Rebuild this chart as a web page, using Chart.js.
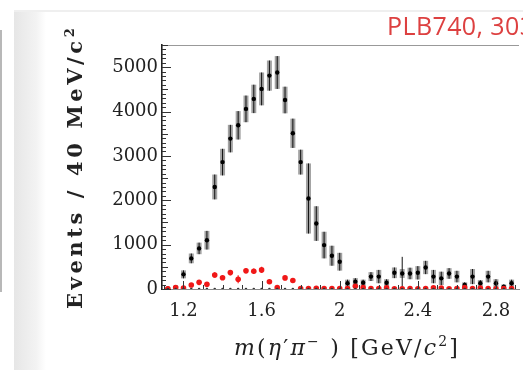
<!DOCTYPE html>
<html>
<head>
<meta charset="utf-8">
<script src="https://cdn.jsdelivr.net/npm/chart.js@4.4.1/dist/chart.umd.min.js"></script>
<style>
html,body{margin:0;padding:0;background:#fff;overflow:hidden}
#wrap{position:relative;width:523px;height:370px;overflow:hidden;filter:blur(0.7px)}
#strip{position:absolute;left:14px;top:10px;width:32px;height:360px;background:linear-gradient(to right,#e6e6e6,#f3f3f3 70%,#fff)}
#topline{position:absolute;left:14px;top:10px;width:509px;height:2px;background:#efefef}
#edge{position:absolute;left:0;top:30px;width:2px;height:262px;background:#b8b8b8}
#plb{position:absolute;left:387px;top:8px;font:500 25px 'Open Sans',sans-serif;letter-spacing:0.4px;color:#dd4040;white-space:nowrap}
#ytitle{position:absolute;left:-64px;top:155px;width:280px;height:28px;line-height:28px;text-align:center;
  transform:rotate(-90deg);font:bold 21px 'DejaVu Serif',serif;color:#222;letter-spacing:3.6px;white-space:nowrap}
#xtitle{position:absolute;left:187px;top:333px;width:320px;text-align:center;font:22px 'DejaVu Serif',serif;letter-spacing:2.2px;color:#222;white-space:nowrap}
#xtitle sup{font-size:14px;vertical-align:9px}
canvas{position:absolute;left:0;top:0}
</style>
</head>
<body>
<div id="wrap">
  <div id="strip"></div>
  <div id="topline"></div>
  <div id="edge"></div>
  <canvas id="massChart" width="523" height="370"></canvas>
  <div id="ytitle">Events / 40 MeV/c<sup style="font-size:13px">2</sup></div>
  <div id="xtitle"><i>m</i>(<i>η</i>′<i>π</i><sup>−</sup> ) [GeV/<i>c</i><sup>2</sup>]</div>
  <div id="plb">PLB740, 303</div>
</div>
<script>
// bin centres, 40 MeV wide
const massBins = [1.12,1.16,1.20,1.24,1.28,1.32,1.36,1.40,1.44,1.48,1.52,1.56,1.60,1.64,1.68,
  1.72,1.76,1.80,1.84,1.88,1.92,1.96,2.00,2.04,2.08,2.12,2.16,2.20,2.24,2.28,
  2.32,2.36,2.40,2.44,2.48,2.52,2.56,2.60,2.64,2.68,2.72,2.76,2.80,2.84,2.88];
// main spectrum (black)
const events = [15,40,330,690,915,1100,2300,2860,3390,3690,4060,4285,4510,4810,4880,
  4260,3510,2860,2040,1475,990,750,615,130,165,140,280,280,140,365,
  350,350,365,485,280,240,350,280,90,280,130,280,130,50,130];
const statErr = [20,30,90,110,130,210,280,300,310,320,300,320,370,340,370,
  300,330,280,790,390,300,225,200,80,80,70,100,150,80,120,
  375,130,150,150,150,150,120,130,60,170,70,130,90,50,80];
const sysErr = [20,30,90,110,130,210,280,300,310,320,300,320,370,340,370,
  300,330,280,790,390,300,225,200,80,80,70,100,150,80,120,
  100,130,150,150,150,150,120,130,60,170,70,130,90,50,80];
// red points
const redEvents = [5,35,20,90,150,105,315,255,370,220,410,400,430,165,30,
  250,190,10,10,15,10,10,10,10,60,35,10,10,25,5,
  5,10,5,10,25,20,5,10,30,10,20,10,5,10,10];
const redErr = [10,20,20,40,40,40,60,50,60,90,60,60,70,50,30,
  50,50,20,15,15,15,15,15,15,30,25,15,15,20,15,
  15,15,15,15,20,20,15,15,20,15,15,15,15,15,15];
// dark markers on the baseline
const baseEvents = [0,0,0,0,0,0,0,0,0,0,0,0,0,0,0,
  0,0,0,0,0,0,0,0,0,0,0,0,0,0,0,
  0,0,0,0,0,0,0,0,0,0,0,0,0,0,0];

const xTicks = [1.2,1.6,2.0,2.4,2.8];
const xTickLabels = ['1.2','1.6','2','2.4','2.8'];
const yTicks = [0,1000,2000,3000,4000,5000];
const yTickLabels = ['0','1000','2000','3000','4000','5000'];

const pts = (ys) => massBins.map((m,i)=>({x:m,y:ys[i]}));

// error bars, drawn under the markers
const errorBars = {
  id:'errorBars',
  beforeDatasetsDraw(chart){
    const {ctx, scales:{x,y}} = chart;
    ctx.save();
    ctx.beginPath();
    ctx.rect(chart.chartArea.left, chart.chartArea.top, chart.chartArea.width, chart.chartArea.height);
    ctx.clip();
    massBins.forEach((m,i)=>{
      const px = x.getPixelForValue(m);
      // systematic box
      const t = y.getPixelForValue(events[i]+sysErr[i]);
      const b = y.getPixelForValue(Math.max(0,events[i]-sysErr[i]));
      ctx.fillStyle='rgba(70,70,70,0.5)';
      ctx.fillRect(px-2.5, t, 5, b-t);
      // stat line
      ctx.strokeStyle='#111'; ctx.lineWidth=1;
      ctx.beginPath();
      ctx.moveTo(px, y.getPixelForValue(events[i]+statErr[i]));
      ctx.lineTo(px, y.getPixelForValue(Math.max(0,events[i]-statErr[i])));
      ctx.stroke();
      // red
      ctx.strokeStyle='#f22'; ctx.lineWidth=1.2;
      ctx.beginPath();
      ctx.moveTo(px, y.getPixelForValue(redEvents[i]+redErr[i]));
      ctx.lineTo(px, y.getPixelForValue(Math.max(0,redEvents[i]-redErr[i])));
      ctx.stroke();
    });
    ctx.restore();
  }
};

// frame line on top and inward tick marks
const frameTicks = {
  id:'frameTicks',
  afterDraw(chart){
    const {ctx, chartArea:a, scales:{x,y}} = chart;
    ctx.save();
    ctx.strokeStyle='#999'; ctx.lineWidth=1;
    ctx.beginPath(); ctx.moveTo(a.left, a.top+0.5); ctx.lineTo(a.right, a.top+0.5); ctx.stroke();
    ctx.strokeStyle='#333';
    ctx.beginPath();
    for (let v=0; v<=5500; v+=100){
      const py = Math.round(y.getPixelForValue(v))+0.5;
      const len = v%1000===0 ? 9 : (v%500===0 ? 6 : 4);
      ctx.moveTo(a.left, py); ctx.lineTo(a.left+len, py);
    }
    for (let i=11; i<=29; i++){
      const px = Math.round(x.getPixelForValue(i/10))+0.5;
      const len = i%4===0 ? 8 : 4;
      ctx.moveTo(px, a.bottom); ctx.lineTo(px, a.bottom-len);
    }
    ctx.stroke();
    ctx.restore();
  }
};

new Chart('massChart', {
  type:'scatter',
  data:{datasets:[
    {label:'base', data:pts(baseEvents), pointRadius:1.3, backgroundColor:'#333', borderWidth:0},
    {label:'red', data:pts(redEvents), pointRadius:2.8, backgroundColor:'#f01818', borderWidth:0},
    {label:'events', data:pts(events), pointRadius:2.2, backgroundColor:'#000', borderWidth:0}
  ]},
  options:{
    responsive:false, animation:false,
    layout:{padding:{top:45,left:0,right:0,bottom:0}},
    plugins:{legend:{display:false}, tooltip:{enabled:false}},
    scales:{
      x:{type:'linear', min:1.09, max:2.918,
        afterBuildTicks:s=>{ s.ticks = xTicks.map(v=>({value:v})); },
        afterFit:s=>{ s.height = 81; },
        grid:{drawOnChartArea:false, drawTicks:false},
        border:{display:true, color:'#8a8a8a', width:1},
        ticks:{padding:12, color:'#222', maxRotation:0, autoSkip:false,
          font:{family:'DejaVu Serif', size:18},
          callback:(v,i)=>xTickLabels[i]}},
      y:{type:'linear', min:0, max:5500,
        afterBuildTicks:s=>{ s.ticks = yTicks.map(v=>({value:v})); },
        afterFit:s=>{ s.width = 162; },
        grid:{drawOnChartArea:false, drawTicks:false},
        border:{display:true, color:'#222', width:1.6},
        ticks:{padding:4, color:'#222', autoSkip:false,
          font:{family:'DejaVu Serif', size:18},
          callback:(v,i)=>yTickLabels[i]}}
    }
  },
  plugins:[errorBars, frameTicks]
});
</script>
</body>
</html>
